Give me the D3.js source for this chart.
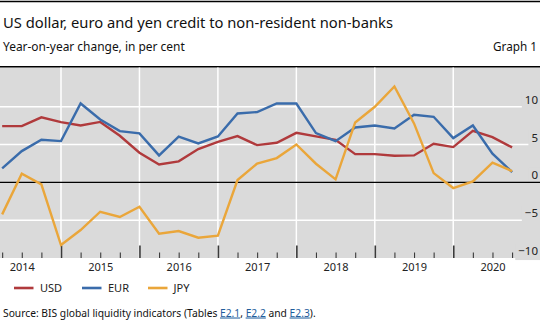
<!DOCTYPE html>
<html>
<head>
<meta charset="utf-8">
<script src="https://cdn.jsdelivr.net/npm/d3@7"></script>
<style>
  html, body { margin: 0; padding: 0; background: #fff; }
  svg { display: block; font-family: "Noto Sans", "Open Sans", sans-serif; }
</style>
</head>
<body>
<svg id="chart" width="540" height="321"></svg>
<script>
// ---- data ----
const quarters = ["2014-Q1","2014-Q2","2014-Q3","2014-Q4",
                  "2015-Q1","2015-Q2","2015-Q3","2015-Q4",
                  "2016-Q1","2016-Q2","2016-Q3","2016-Q4",
                  "2017-Q1","2017-Q2","2017-Q3","2017-Q4",
                  "2018-Q1","2018-Q2","2018-Q3","2018-Q4",
                  "2019-Q1","2019-Q2","2019-Q3","2019-Q4",
                  "2020-Q1","2020-Q2","2020-Q3"];
const usd = [7.44, 7.44, 8.6, 7.97, 7.53, 8.0, 6.17, 3.92, 2.38, 2.78, 4.41, 5.37, 6.12, 4.93,
             5.24, 6.56, 6.08, 5.64, 3.74, 3.74, 3.52, 3.57, 5.11, 4.67, 6.83, 5.99, 4.63];
const eur = [1.85, 4.14, 5.64, 5.46, 10.44, 8.33, 6.78, 6.48, 3.57, 6.04, 5.15, 6.08, 9.12, 9.3,
             10.44, 10.44, 6.52, 5.46, 7.27, 7.53, 7.14, 8.94, 8.68, 5.86, 7.53, 3.79, 1.37];
const jpy = [-4.23, 1.15, -0.26, -8.28, -6.3, -3.88, -4.58, -3.22, -6.78, -6.43, -7.31, -7.05, 0.31, 2.5,
             3.22, 5.02, 2.47, 0.4, 7.93, 10.0, 12.69, 7.8, 1.23, -0.75, 0.13, 2.6, 1.5];
const years = [2014, 2015, 2016, 2017, 2018, 2019, 2020];
const yTicks = [-10, -5, 0, 5, 10];
const seriesNames = ["USD", "EUR", "JPY"];
const seriesColors = ["#b03a3c", "#3a6cab", "#eaa63a"];

// ---- helpers ----
const qToNum = q => +q.slice(0, 4) + (+q.slice(6)) / 4; // quarter-end position

const svg = d3.select("#chart");
const W = 540, H = 321;
const plotTop = 67.5, plotBottom = 258;

const x = d3.scaleLinear().domain([2015, 2020]).range([61, 453.25]);
const y = d3.scaleLinear().domain([-10, 15]).range([plotBottom, 69]);

// rules
svg.append("line").attr("x1", 0).attr("x2", W).attr("y1", 1.5).attr("y2", 1.5)
  .attr("stroke", "#000").attr("stroke-width", 1.6);

function fit(sel, target) {
  const w = sel.node().getComputedTextLength();
  const fs = parseFloat(sel.attr("font-size"));
  sel.attr("font-size", (fs * target / w).toFixed(2));
}

const title = svg.append("text").attr("x", 3).attr("y", 27.5).attr("font-size", 16)
  .attr("fill", "#111").text("US dollar, euro and yen credit to non-resident non-banks");
fit(title, 390);
const sub = svg.append("text").attr("x", 3).attr("y", 50.5).attr("font-size", 12)
  .attr("fill", "#111").text("Year-on-year change, in per cent");
fit(sub, 182);
const g1 = svg.append("text").attr("x", 537).attr("y", 50.5).attr("font-size", 12)
  .attr("text-anchor", "end").attr("fill", "#111").text("Graph 1");
fit(g1, 44);

// plot background
svg.append("rect").attr("x", 0).attr("y", plotTop).attr("width", W).attr("height", plotBottom - plotTop)
  .attr("fill", "#dadada");

svg.append("line").attr("x1", 0).attr("x2", W).attr("y1", 66.8).attr("y2", 66.8)
  .attr("stroke", "#000").attr("stroke-width", 1.6);

// horizontal gridlines
svg.append("g").selectAll("line").data(yTicks.filter(v => v !== 0 && v !== -10)).join("line")
  .attr("x1", 0).attr("x2", W).attr("y1", d => y(d)).attr("y2", d => y(d))
  .attr("stroke", "#fff").attr("stroke-width", 1.5);

// vertical year gridlines
svg.append("g").selectAll("line").data(years.slice(1)).join("line")
  .attr("x1", d => x(d)).attr("x2", d => x(d)).attr("y1", plotTop).attr("y2", plotBottom)
  .attr("stroke", "#fff").attr("stroke-width", 1.5);

// y axis labels (right side, above gridlines)
const yAxis = svg.append("g").attr("transform", "translate(538,0)")
  .call(d3.axisLeft(y).tickValues(yTicks).tickSize(0).tickPadding(0)
        .tickFormat(d => d < 0 ? "\u2212" + Math.abs(d) : String(d)));
yAxis.select(".domain").remove();
yAxis.selectAll("text").attr("dy", "-0.3em").attr("font-size", 11.5)
  .attr("font-family", "'Noto Sans', sans-serif").attr("fill", "#222");
yAxis.selectAll(".tick").each(function () {
  const t = d3.select(this).select("text");
  const bb = t.node().getBBox();
  d3.select(this).insert("rect", "text")
    .attr("x", bb.x - 3).attr("y", bb.y).attr("width", bb.width + 6).attr("height", bb.height + 2)
    .attr("fill", "#dadada");
});

// zero line
svg.append("line").attr("x1", 0).attr("x2", W).attr("y1", y(0)).attr("y2", y(0))
  .attr("stroke", "#000").attr("stroke-width", 1.2);

// x ticks (upward from bottom)
const isYearEnd = d => Math.abs(d - Math.round(d)) < 1e-6;
const xTickAxis = svg.append("g").attr("transform", `translate(0,${plotBottom})`)
  .call(d3.axisTop(x).tickValues(quarters.map(qToNum)).tickSize(5).tickFormat(""));
xTickAxis.select(".domain").remove();
xTickAxis.selectAll(".tick line")
  .attr("stroke", "#3a3a3a")
  .attr("y2", d => isYearEnd(d) ? -12.5 : -5.5)
  .attr("stroke-width", d => isYearEnd(d) ? 1.6 : 1.1);

// year labels
const xLab = svg.append("g").attr("transform", `translate(0,${plotBottom})`)
  .call(d3.axisBottom(x).tickValues(years.map(v => v + 0.5)).tickSize(0).tickPadding(5)
        .tickFormat(d => String(Math.floor(d))));
xLab.select(".domain").remove();
xLab.selectAll("text").attr("font-size", 11).attr("font-family", "'Noto Sans', sans-serif")
  .attr("fill", "#222");

// lines
const seriesData = [usd, eur, jpy];
const line = d3.line().x((d, i) => x(qToNum(quarters[i]))).y(d => y(d));
svg.append("g").selectAll("path").data(seriesData).join("path")
  .attr("d", d => line(d)).attr("fill", "none")
  .attr("stroke", (d, i) => seriesColors[i]).attr("stroke-width", 2.4)
  .attr("stroke-linejoin", "miter").attr("stroke-linecap", "butt");

// legend
const legX = [14, 82, 148];
const leg = svg.append("g").selectAll("g").data(seriesNames).join("g")
  .attr("transform", (d, i) => `translate(${legX[i]},288)`);
leg.append("line").attr("x1", 0).attr("x2", 19.5).attr("y1", 0).attr("y2", 0)
  .attr("stroke", (d, i) => seriesColors[i]).attr("stroke-width", 2.6);
leg.append("text").attr("x", (d, i) => i === 2 ? 25.5 : 26).attr("y", 4).attr("font-size", 11)
  .attr("fill", "#222").text(d => d);

// source
const src = svg.append("text").attr("x", 3).attr("y", 316.5).attr("font-size", 10).attr("fill", "#111");
src.append("tspan").text("Source: BIS global liquidity indicators (Tables ");
src.append("tspan").attr("fill", "#1f5d9c").attr("text-decoration", "underline").text("E2.1");
src.append("tspan").text(", ");
src.append("tspan").attr("fill", "#1f5d9c").attr("text-decoration", "underline").text("E2.2");
src.append("tspan").text(" and ");
src.append("tspan").attr("fill", "#1f5d9c").attr("text-decoration", "underline").text("E2.3");
src.append("tspan").text(").");
fit(src, 313);
</script>
</body>
</html>
